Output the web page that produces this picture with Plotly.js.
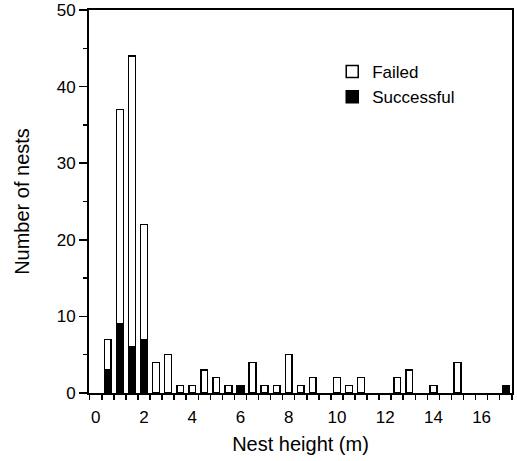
<!DOCTYPE html>
<html>
<head>
<meta charset="utf-8">
<script src="https://cdn.plot.ly/plotly-3.0.1.min.js"></script>
<style>
  html, body { margin: 0; padding: 0; background: #fff; }
  #chart { width: 517px; height: 461px; }
</style>
</head>
<body>
<div id="chart"></div>
<script>
// Nest height bins (m), bin centres
var heights = [0.5, 1, 1.5, 2, 2.5, 3, 3.5, 4, 4.5, 5, 5.5, 6, 6.5, 7, 7.5, 8, 8.5, 9, 10, 10.5, 11, 12.5, 13, 14, 15, 17];
// Failed nests (stacked on top)
var failed = [4, 28, 38, 15, 4, 5, 1, 1, 3, 2, 1, null, 4, 1, 1, 5, 1, 2, 2, 1, 2, 2, 3, 1, 4, null];
// Successful nests (bottom, black)
var successful = [3, 9, 6, 7, null, null, null, null, null, null, null, 1, null, null, null, null, null, null, null, null, null, null, null, null, null, 1];

var xTickVals = [0, 2, 4, 6, 8, 10, 12, 14, 16];
var yTickVals = [0, 10, 20, 30, 40, 50];

var FONT = 'Liberation Sans, Arial, Helvetica, sans-serif';

var traces = [
  {
    type: 'bar', name: 'Successful', x: heights, y: successful, width: 0.28,
    marker: { color: '#000', line: { color: '#000', width: 1.5 } },
    hoverinfo: 'x+y'
  },
  {
    type: 'bar', name: 'Failed', x: heights, y: failed, width: 0.28,
    marker: { color: '#fff', line: { color: '#000', width: 1.5 } },
    hoverinfo: 'x+y'
  }
];

var layout = {
  width: 517, height: 461,
  paper_bgcolor: '#fff', plot_bgcolor: '#fff',
  margin: { l: 89, r: 5, t: 10, b: 68 },
  barmode: 'stack',
  bargap: 0,
  showlegend: true,
  legend: {
    x: 0.575, y: 0.885, xanchor: 'left', yanchor: 'top',
    traceorder: 'reversed',
    font: { family: FONT, size: 17, color: '#000' },
    bgcolor: 'rgba(0,0,0,0)', borderwidth: 0,
    itemwidth: 30, tracegroupgap: 0
  },
  font: { family: FONT, color: '#000' },
  xaxis: {
    range: [-0.28, 17.26],
    tickmode: 'array', tickvals: xTickVals, ticktext: xTickVals.map(String),
    ticks: '', ticklabelstandoff: 8,
    minor: { tick0: -0.25, dtick: 0.5, ticks: 'outside', ticklen: 5, tickwidth: 1.5, tickcolor: '#000', showgrid: false },
    showgrid: false, zeroline: false,
    showline: true, linecolor: '#000', linewidth: 2, mirror: true,
    tickfont: { family: FONT, size: 17, color: '#000' },
    title: { text: 'Nest height (m)', font: { family: FONT, size: 20, color: '#000' }, standoff: 11 }
  },
  yaxis: {
    range: [0, 50],
    tickmode: 'array', tickvals: yTickVals, ticktext: yTickVals.map(String),
    ticks: 'outside', ticklen: 8, tickwidth: 1.5, tickcolor: '#000',
    minor: { dtick: 5, tick0: 0, ticks: 'outside', ticklen: 4, tickwidth: 1.5, tickcolor: '#000', showgrid: false },
    showgrid: false, zeroline: false,
    showline: true, linecolor: '#000', linewidth: 2, mirror: true,
    tickfont: { family: FONT, size: 17, color: '#000' },
    title: { text: 'Number of nests', font: { family: FONT, size: 20, color: '#000' }, standoff: 22 }
  }
};

Plotly.newPlot('chart', traces, layout, { displayModeBar: false, staticPlot: true });
</script>
</body>
</html>
